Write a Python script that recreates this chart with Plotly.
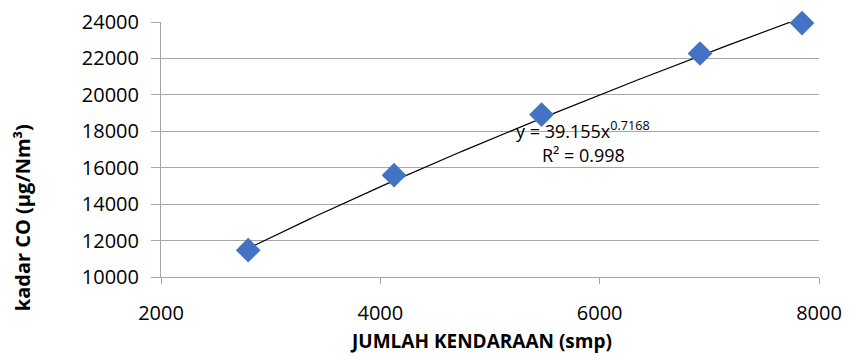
import numpy as np
import plotly.graph_objects as go

# Measured vehicle counts (smp) and CO concentration (µg/Nm³)
jumlah_kendaraan = [2795, 4125, 5470, 6915, 7845]
kadar_co = [11470, 15590, 18920, 22270, 23940]

# Power-law trendline coefficients: y = a * x^b
coef_a = 39.155
coef_b = 0.7168
r_squared = 0.998

x_tick_vals = [2000, 4000, 6000, 8000]
y_tick_vals = [10000, 12000, 14000, 16000, 18000, 20000, 22000, 24000]

x_title = "JUMLAH KENDARAAN (smp)"
y_title = "kadar CO (µg/Nm³)"

trend_x = np.linspace(min(jumlah_kendaraan), max(jumlah_kendaraan), 200)
trend_y = coef_a * trend_x ** coef_b

fig = go.Figure()
fig.add_trace(go.Scatter(
    x=trend_x, y=trend_y, mode="lines",
    line=dict(color="black", width=1.2), hoverinfo="skip", showlegend=False,
))
fig.add_trace(go.Scatter(
    x=jumlah_kendaraan, y=kadar_co, mode="markers",
    marker=dict(symbol="diamond", size=19, color="#4472C4"),
    showlegend=False, cliponaxis=False,
))

font_family = "Open Sans, Liberation Sans, sans-serif"

# Trendline equation and fit quality
fig.add_annotation(
    x=5850, y=18070, xref="x", yref="y",
    text=f"y = {coef_a}x<sup>{coef_b}</sup>",
    showarrow=False, font=dict(family=font_family, size=18, color="black"),
)
fig.add_annotation(
    x=5850, y=16690, xref="x", yref="y",
    text=f"R² = {r_squared}",
    showarrow=False, font=dict(family=font_family, size=18, color="black"),
)

# Axis titles
fig.add_annotation(
    x=0.486, y=-0.252, xref="paper", yref="paper",
    text=f"<b>{x_title}</b>", showarrow=False,
    xanchor="center", yanchor="middle",
    font=dict(family=font_family, size=19, color="black"),
)
fig.add_annotation(
    x=-0.211, y=0.231, xref="paper", yref="paper",
    text=f"<b>{y_title}</b>", showarrow=False, textangle=-90,
    xanchor="center", yanchor="middle",
    font=dict(family=font_family, size=20, color="black"),
)

fig.update_layout(
    width=849, height=356,
    margin=dict(l=161, r=30, t=22, b=79, autoexpand=False),
    plot_bgcolor="white", paper_bgcolor="white",
    font=dict(family=font_family, color="black"),
    xaxis=dict(
        range=[2000, 8000], tickvals=x_tick_vals, tickformat="d",
        showgrid=False, zeroline=False, automargin=False,
        showline=True, linecolor="#a6a6a6", linewidth=1,
        ticks="outside", ticklen=6, tickcolor="#a6a6a6",
        tickfont=dict(size=20), ticklabelstandoff=12,
    ),
    yaxis=dict(
        range=[10000, 24000], tickvals=y_tick_vals, tickformat="d",
        showgrid=True, gridcolor="#a6a6a6", gridwidth=1, zeroline=False,
        automargin=False,
        showline=True, linecolor="#a6a6a6", linewidth=1,
        ticks="outside", ticklen=9, tickcolor="#a6a6a6",
        tickfont=dict(size=20), ticklabelstandoff=8,
    ),
)

fig.write_html("out.html")
